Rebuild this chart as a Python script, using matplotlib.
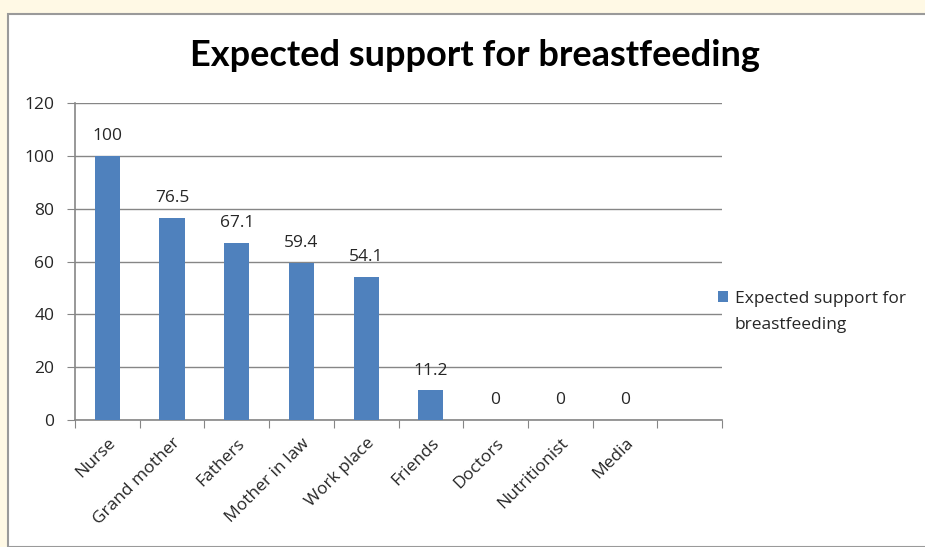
import matplotlib.pyplot as plt
from matplotlib.patches import Rectangle

# --- data ---
categories = ["Nurse", "Grand mother", "Fathers", "Mother in law", "Work place",
              "Friends", "Doctors", "Nutritionist", "Media"]
values = [100, 76.5, 67.1, 59.4, 54.1, 11.2, 0, 0, 0]
value_labels = ["100", "76.5", "67.1", "59.4", "54.1", "11.2", "0", "0", "0"]
y_ticks = [0, 20, 40, 60, 80, 100, 120]
n_slots = 10  # chart leaves one empty category slot at the end

plt.rcParams['font.family'] = ['Open Sans', 'DejaVu Sans']
bar_color = "#4F81BD"
axis_gray = "#868686"
text_color = "#262626"
fs = 12.5

fig = plt.figure(figsize=(9.25, 5.47), dpi=100)
fig.patch.set_facecolor("#FFF9E5")

# chart frame
W, H = 925, 547
fig.patches.append(Rectangle((8 / W, 0), 1, 1 - 14 / H, transform=fig.transFigure,
                             facecolor="white", edgecolor="#9A9A9A", linewidth=1.5, zorder=-5))

ax = fig.add_axes([75 / W, 1 - 420 / H, (722 - 75) / W, (420 - 103) / H])
ax.set_zorder(2)
ax.set_facecolor("white")

x = list(range(len(categories)))
ax.bar(x, values, width=0.39, color=bar_color, zorder=3,
       label="Expected support for")

for xi, v, lab in zip(x, values, value_labels):
    ax.text(xi, v + 4.5, lab, ha="center", va="bottom", fontsize=fs, color=text_color)

ax.set_xlim(-0.5, n_slots - 0.5)
ax.set_ylim(0, 120)
ax.set_yticks(y_ticks)
ax.yaxis.grid(True, color=axis_gray, linewidth=1, zorder=0)
ax.set_axisbelow(True)

ax.set_xticks([i - 0.5 for i in range(n_slots + 1)], minor=False)
ax.set_xticklabels([])
ax.set_xticks(x, minor=True)
ax.set_xticklabels(categories, minor=True, rotation=45, ha="right",
                   rotation_mode="anchor", fontsize=fs, color=text_color)
ax.tick_params(axis="x", which="major", length=6, color=axis_gray, direction="out")
ax.tick_params(axis="x", which="minor", length=0, pad=11)
ax.tick_params(axis="y", length=6, color=axis_gray, labelsize=fs,
               labelcolor=text_color, pad=9)

for s in ["top", "right"]:
    ax.spines[s].set_visible(False)
for s in ["left", "bottom"]:
    ax.spines[s].set_color(axis_gray)
    ax.spines[s].set_linewidth(1.2)

fig.text(475 / W, 1 - 56 / H, "Expected support for breastfeeding",
         ha="center", va="center", fontsize=26, fontweight="bold", color="black",
         family=["Lato", "DejaVu Sans"])

# legend: marker lines up with the first line, label wraps below
fig.legend(loc="center left", bbox_to_anchor=(702 / W, 1 - 299 / H), frameon=False,
           fontsize=fs, handlelength=0.6, handleheight=0.6, handletextpad=0.4,
           labelcolor=text_color)
fig.text(735 / W, 1 - 325 / H, "breastfeeding", ha="left", va="center",
         fontsize=fs, color=text_color)

fig.savefig("out.png", dpi=100, facecolor=fig.get_facecolor())
